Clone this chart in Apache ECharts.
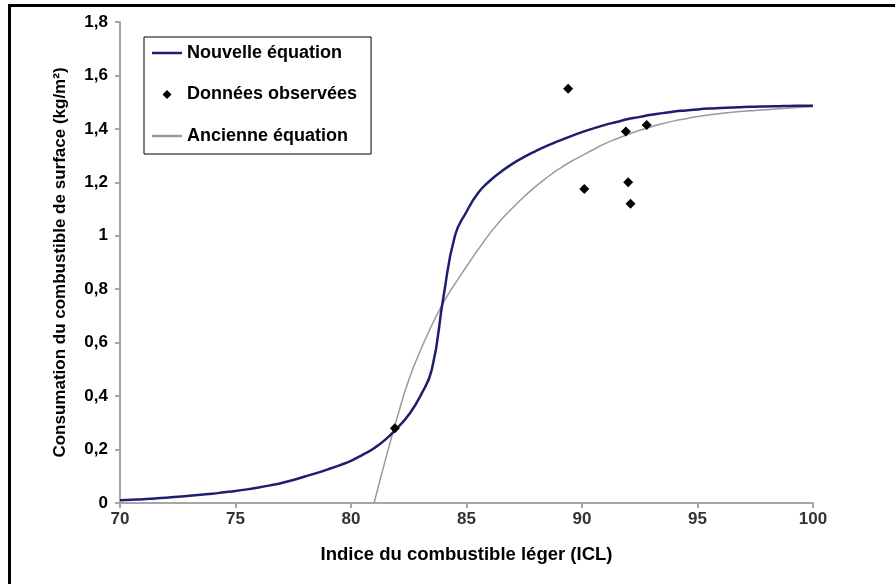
<!DOCTYPE html>
<html>
<head>
<meta charset="utf-8">
<script src="https://cdn.jsdelivr.net/npm/echarts@6/dist/echarts.min.js"></script>
<style>html,body{margin:0;padding:0;background:#fff}#c{width:895px;height:584px}</style>
</head>
<body>
<div id="c"></div>
<script>
// Nouvelle équation (ICL, consumation), read every 0.5 ICL from 70 to 100
const nouvelleX = [70,70.5,71,71.5,72,72.5,73,73.5,74,74.5,75,75.5,76,76.5,77,77.5,78,78.5,79,79.5,80,80.5,81,81.5,82,82.5,83,83.5,84,84.5,85,85.5,86,86.5,87,87.5,88,88.5,89,89.5,90,90.5,91,91.5,92,92.5,93,93.5,94,94.5,95,95.5,96,96.5,97,97.5,98,98.5,99,99.5,100];
const nouvelleY = [0.010,0.012,0.014,0.017,0.020,0.023,0.027,0.031,0.035,0.040,0.045,0.051,0.058,0.066,0.075,0.086,0.099,0.112,0.126,0.141,0.158,0.180,0.205,0.238,0.280,0.330,0.400,0.500,0.770,1.000,1.090,1.160,1.205,1.240,1.270,1.295,1.317,1.337,1.355,1.372,1.388,1.402,1.415,1.426,1.437,1.445,1.453,1.459,1.465,1.469,1.473,1.476,1.478,1.480,1.482,1.483,1.484,1.485,1.486,1.487,1.487];
// Ancienne équation, read every 0.5 ICL from 81 to 100
const ancienneX = [81,81.5,82,82.5,83,83.5,84,84.5,85,85.5,86,86.5,87,87.5,88,88.5,89,89.5,90,90.5,91,91.5,92,92.5,93,93.5,94,94.5,95,95.5,96,96.5,97,97.5,98,98.5,99,99.5,100];
const ancienneY = [0,0.165,0.32,0.46,0.57,0.665,0.75,0.82,0.885,0.948,1.008,1.06,1.105,1.147,1.185,1.219,1.25,1.277,1.30,1.323,1.345,1.363,1.38,1.395,1.408,1.42,1.43,1.438,1.446,1.452,1.458,1.462,1.466,1.469,1.472,1.475,1.478,1.481,1.484];
// Données observées
const obsX = [81.9,89.4,90.1,91.9,92.0,92.1,92.8];
const obsY = [0.28,1.55,1.175,1.39,1.20,1.12,1.415];
const xTicks = [70,75,80,85,90,95,100];
const yTicks = [0,0.2,0.4,0.6,0.8,1,1.2,1.4,1.6,1.8];

const zip = (a,b) => a.map((v,i)=>[v,b[i]]);
const chart = echarts.init(document.getElementById('c'));
const fmt = v => String(Math.round(v*10)/10).replace('.', ',');
const lineIcon = 'path://M0,0L30,0L30,2.5L0,2.5Z';
const diamondIcon = 'path://M5,0L10,5L5,10L0,5Z';
chart.setOption({
  animation:false,
  backgroundColor:'#fff',
  textStyle:{fontFamily:'Liberation Sans, Arial, sans-serif'},
  graphic:[{type:'rect',shape:{x:9.5,y:5.5,width:1000,height:1000},style:{fill:'none',stroke:'#000',lineWidth:3},silent:true}],
  grid:{left:120,right:82,top:22,bottom:81,containLabel:false},
  legend:{
    orient:'vertical',left:144,top:37,
    padding:[6,14,8,8],
    backgroundColor:'#fff',borderColor:'#000',borderWidth:1,
    itemWidth:30,itemHeight:9,itemGap:21.5,
    textStyle:{fontSize:18,fontWeight:'bold',color:'#000',lineHeight:20},
    data:[
      {name:'Nouvelle équation',icon:lineIcon},
      {name:'Données observées',icon:diamondIcon},
      {name:'Ancienne équation',icon:lineIcon}
    ]
  },
  xAxis:{
    type:'value',min:70,max:100,interval:5,
    name:'Indice du combustible léger (ICL)',nameLocation:'middle',nameGap:42,
    nameTextStyle:{fontSize:18.5,fontWeight:'bold',color:'#000'},
    axisLine:{lineStyle:{color:'#a6a6a6',width:2}},
    axisTick:{show:true,length:5,lineStyle:{color:'#a6a6a6',width:2}},
    axisLabel:{fontSize:17,fontWeight:'bold',color:'#333',margin:8,formatter:v=>xTicks.includes(v)?String(v):''},
    splitLine:{show:false}
  },
  yAxis:{
    type:'value',min:0,max:1.8,interval:0.2,
    name:'Consumation du combustible de surface (kg/m²)',nameLocation:'middle',nameGap:51,
    nameTextStyle:{fontSize:17,fontWeight:'bold',color:'#000'},
    axisLine:{show:true,lineStyle:{color:'#a6a6a6',width:2}},
    axisTick:{show:true,length:5,lineStyle:{color:'#a6a6a6',width:2}},
    axisLabel:{fontSize:17,fontWeight:'bold',color:'#000',margin:12,formatter:v=>fmt(v)},
    splitLine:{show:false}
  },
  series:[
    {name:'Nouvelle équation',type:'line',data:zip(nouvelleX,nouvelleY),smooth:0.5,symbol:'none',
     lineStyle:{color:'#1e1e6e',width:2.5},itemStyle:{color:'#1e1e6e'},z:3},
    {name:'Données observées',type:'scatter',data:zip(obsX,obsY),symbol:'diamond',symbolSize:10,
     itemStyle:{color:'#000',opacity:1},z:5},
    {name:'Ancienne équation',type:'line',data:zip(ancienneX,ancienneY),smooth:0.5,symbol:'none',
     lineStyle:{color:'#9a9a9a',width:1.5},itemStyle:{color:'#9a9a9a'},z:2}
  ]
});
</script>
</body>
</html>
